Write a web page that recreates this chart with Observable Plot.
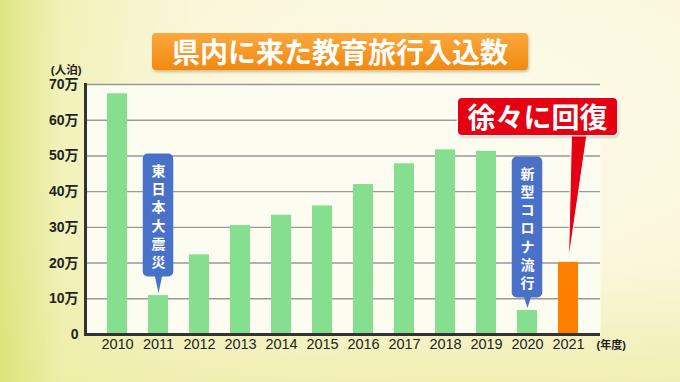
<!DOCTYPE html>
<html><head><meta charset="utf-8">
<script src="https://cdn.jsdelivr.net/npm/d3@7"></script>
<script src="https://cdn.jsdelivr.net/npm/@observablehq/plot@0.6"></script>
<style>
body{margin:0;}
#wrap{position:relative;width:680px;height:382px;overflow:hidden;
  background:
    linear-gradient(90deg, rgba(214,226,110,.8) 0%, rgba(235,238,160,.5) 9%, rgba(255,255,255,0) 28%),
    linear-gradient(180deg, rgba(255,255,255,0) 70%, rgba(236,236,160,.6) 100%),
    radial-gradient(ellipse at 70% 30%, #fdfbea 0%, #f9f6d8 55%, #f3f1c4 100%);}
#chart{position:absolute;left:0;top:0;}
#title{position:absolute;left:152px;top:33px;width:376px;height:37px;border-radius:4px;
  background:linear-gradient(#fba83e,#f28910);color:#fff;font:bold 28px "Noto Sans CJK JP",sans-serif;
  text-align:center;line-height:37px;box-shadow:1px 2px 3px rgba(120,80,0,.35);}
#note{position:absolute;left:458px;top:98px;width:159px;height:37px;border-radius:4px;background:#e50012;
  color:#fff;font:bold 28px "Noto Sans CJK JP",sans-serif;text-align:center;line-height:37px;
  box-shadow:0 0 0 1.5px rgba(255,255,255,.85),1px 2px 3px rgba(0,0,0,.3);}
</style></head><body>
<div id="wrap"><div id="chart"></div><div id="title">県内に来た教育旅行入込数</div><div id="note">徐々に回復</div></div>
<script>
const years = ["2010","2011","2012","2013","2014","2015","2016","2017","2018","2019","2020","2021"];
const visitors = [674000, 109000, 223000, 305000, 334000, 360000, 420000, 478000, 517000, 513000, 67000, 202000];
const yTicks = [0, 100000, 200000, 300000, 400000, 500000, 600000, 700000];
const quakeYear = "2011", quakeLabel = "東日本大震災";
const covidYear = "2020", covidLabel = "新型コロナ流行";
const highlightYear = "2021";
const unitY = "(人泊)", unitX = "(年度)";

const data = years.map((year, i) => ({year, value: visitors[i]}));
const green = "#86df8e", orange = "#ff7f00", blue = "#4a71c8", red = "#e50012";

function callout(year, label, gap, boxH) {
  const row = data.filter(d => d.year === year).map(d => ({...d, label: label.split("").join("\n")}));
  return [
    Plot.vector(row, {x: "year", y: "value", anchor: "end", shape: "spike", rotate: 180,
      length: gap, r: 4, dy: -2.5, fill: blue, stroke: "none"}),
    Plot.barY(row, {x: "year", y1: "value", y2: "value", insetLeft: -5.25, insetRight: -5.25,
      insetTop: -(gap + boxH), insetBottom: gap, rx: 5, fill: blue}),
    Plot.text(row, {x: "year", y: "value", text: "label", dy: -(gap + boxH / 2), fill: "#fff",
      fontSize: 14, fontWeight: "bold", lineHeight: 1.3, fontFamily: '"Noto Sans CJK JP",sans-serif'})
  ];
}

const chart = Plot.plot({
  width: 680, height: 382,
  marginTop: 84, marginBottom: 48, marginLeft: 85, marginRight: 80,
  style: {background: "transparent", color: "#222", fontFamily: '"Liberation Sans","Noto Sans CJK JP",sans-serif'},
  x: {type: "band", domain: years, paddingInner: 0.51, paddingOuter: 0.4},
  y: {domain: [0, 700000]},
  marks: [
    Plot.frame({fill: "#fdfcf1", stroke: "none"}),
    Plot.gridY(yTicks, {stroke: "#999", strokeOpacity: 1, strokeWidth: 1.4}),
    Plot.barY(data, {x: "year", y: "value", fill: d => d.year === highlightYear ? orange : green}),
    ...callout(quakeYear, quakeLabel, 18.5, 123),
    ...callout(covidYear, covidLabel, 12.5, 141),
    Plot.vector(data.filter(d => d.year === highlightYear), {x: "year", y: "value", anchor: "end",
      shape: "spike", rotate: 184.8, length: 132, r: 8, dy: -1, fill: red, stroke: "#fff", strokeWidth: 1}),
    Plot.ruleY([0], {stroke: "#333", strokeWidth: 3}),
    Plot.frame({anchor: "left", stroke: "#333", strokeWidth: 3}),
    Plot.axisY(yTicks, {tickSize: 0, tickPadding: 7, fontSize: 14, fontWeight: "bold", label: null,
      tickFormat: d => d === 0 ? "0" : (d / 10000) + "万"}),
    Plot.axisX({tickSize: 0, tickPadding: 4, fontSize: 14.5, label: null}),
    Plot.text([unitY], {text: d => d, frameAnchor: "top-left", dx: -4, dy: -14, textAnchor: "end",
      lineAnchor: "middle", fontSize: 11.5, fontWeight: "bold"}),
    Plot.text([unitX], {text: d => d, frameAnchor: "bottom-right", dx: -4, dy: 11, textAnchor: "start",
      lineAnchor: "middle", fontSize: 11, fontWeight: "bold"})
  ]
});
document.getElementById("chart").appendChild(chart);
</script>
</body></html>
